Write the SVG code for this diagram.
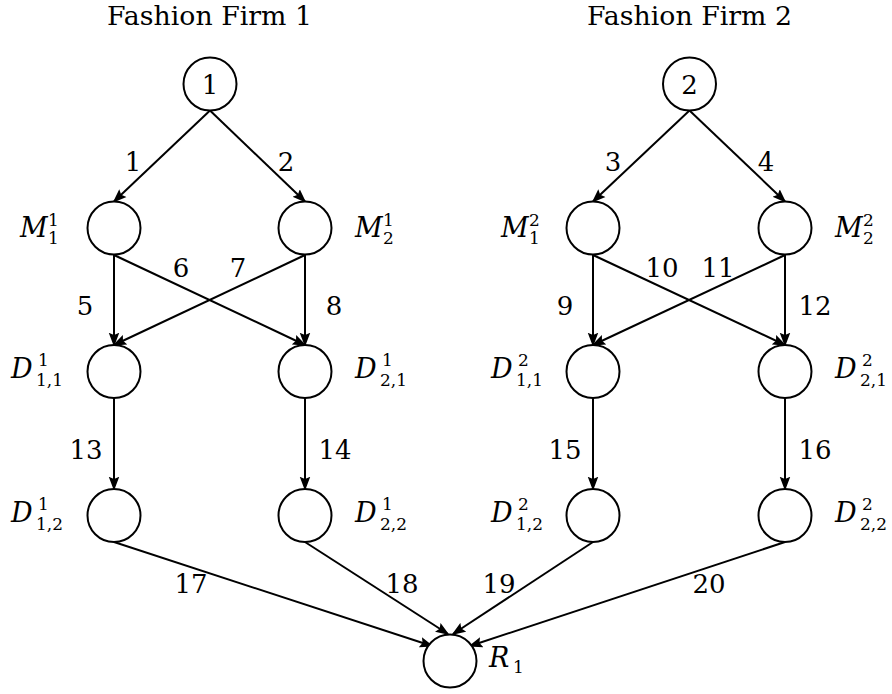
<svg xmlns="http://www.w3.org/2000/svg" width="892" height="694" viewBox="0 0 892 694" font-family="DejaVu Serif, serif">
<style>
text{fill:#000;font-family:'DejaVu Serif',serif}
.t{font-size:26px;text-anchor:middle}
.n{font-size:26px;text-anchor:middle}
.v{font-size:27px;font-style:italic}
.s{font-size:17px}
circle{fill:#fff;stroke:#000;stroke-width:2}
.e line{stroke:#000;stroke-width:2;marker-end:url(#ah)}
</style>
<defs>
<marker id="ah" markerUnits="userSpaceOnUse" markerWidth="14" markerHeight="12" viewBox="0 0 12 10" refX="10.5" refY="5" orient="auto">
<path d="M0,0.5 L12,5 L0,9.5 L2,5 z" fill="#000"/>
</marker>
</defs>
<text class="t" x="209.5" y="25" textLength="205" lengthAdjust="spacingAndGlyphs">Fashion Firm 1</text>
<text class="t" x="689.5" y="25" textLength="205" lengthAdjust="spacingAndGlyphs">Fashion Firm 2</text>
<g id="connectors" class="e">
<line x1="210" y1="110.5" x2="114" y2="201.5"/>
<line x1="210" y1="110.5" x2="305" y2="201.5"/>
<line x1="689.5" y1="110.5" x2="593" y2="201.5"/>
<line x1="689.5" y1="110.5" x2="785" y2="201.5"/>
<line x1="114" y1="255" x2="114" y2="345"/>
<line x1="114" y1="255" x2="305" y2="345"/>
<line x1="305" y1="255" x2="114" y2="345"/>
<line x1="305" y1="255" x2="305" y2="345"/>
<line x1="593" y1="255" x2="593" y2="345"/>
<line x1="593" y1="255" x2="785" y2="345"/>
<line x1="785" y1="255" x2="593" y2="345"/>
<line x1="785" y1="255" x2="785" y2="345"/>
<line x1="114" y1="398" x2="114" y2="489"/>
<line x1="305" y1="398" x2="305" y2="489"/>
<line x1="593" y1="398" x2="593" y2="489"/>
<line x1="785" y1="398" x2="785" y2="489"/>
<line x1="114" y1="542" x2="432" y2="646"/>
<line x1="305" y1="542" x2="448" y2="634"/>
<line x1="593" y1="542" x2="453" y2="634"/>
<line x1="785" y1="542" x2="470" y2="646"/>
</g>
<g id="edge-labels">
<text class="n" x="133" y="171">1</text>
<text class="n" x="286" y="171">2</text>
<text class="n" x="613" y="171">3</text>
<text class="n" x="766" y="171">4</text>
<text class="n" x="85" y="315">5</text>
<text class="n" x="181" y="277">6</text>
<text class="n" x="238" y="277">7</text>
<text class="n" x="334" y="315">8</text>
<text class="n" x="565" y="315">9</text>
<text class="n" x="662" y="277">10</text>
<text class="n" x="718" y="277">11</text>
<text class="n" x="815" y="315">12</text>
<text class="n" x="86" y="459">13</text>
<text class="n" x="335" y="459">14</text>
<text class="n" x="565" y="459">15</text>
<text class="n" x="815" y="459">16</text>
<text class="n" x="191" y="593">17</text>
<text class="n" x="402" y="593">18</text>
<text class="n" x="499" y="593">19</text>
<text class="n" x="709" y="593">20</text>
</g>
<g id="n1"><circle cx="210" cy="84" r="26.5"/><text class="n" x="210" y="94">1</text></g>
<g id="n2"><circle cx="689.5" cy="84" r="26.5"/><text class="n" x="689.5" y="94">2</text></g>
<g id="M11"><circle cx="114" cy="228" r="26.5"/><text class="v" x="20" y="237">M</text><text class="s" x="48" y="226">1</text><text class="s" x="48" y="244">1</text></g>
<g id="M21"><circle cx="305" cy="228" r="26.5"/><text class="v" x="355" y="237">M</text><text class="s" x="383" y="226">1</text><text class="s" x="383" y="244">2</text></g>
<g id="M12"><circle cx="593" cy="228" r="26.5"/><text class="v" x="501" y="237">M</text><text class="s" x="529" y="226">2</text><text class="s" x="529" y="244">1</text></g>
<g id="M22"><circle cx="785" cy="228" r="26.5"/><text class="v" x="835" y="237">M</text><text class="s" x="863" y="226">2</text><text class="s" x="863" y="244">2</text></g>
<g id="D111"><circle cx="114" cy="371.5" r="26.5"/><text class="v" x="11" y="378">D</text><text class="s" x="38" y="366">1</text><text class="s" x="36" y="386">1,1</text></g>
<g id="D211"><circle cx="305" cy="371.5" r="26.5"/><text class="v" x="355" y="378">D</text><text class="s" x="382" y="366">1</text><text class="s" x="380" y="386">2,1</text></g>
<g id="D112"><circle cx="593" cy="371.5" r="26.5"/><text class="v" x="491" y="378">D</text><text class="s" x="518" y="366">2</text><text class="s" x="516" y="386">1,1</text></g>
<g id="D212"><circle cx="785" cy="371.5" r="26.5"/><text class="v" x="835" y="378">D</text><text class="s" x="862" y="366">2</text><text class="s" x="860" y="386">2,1</text></g>
<g id="D121"><circle cx="114" cy="515.5" r="26.5"/><text class="v" x="11" y="522">D</text><text class="s" x="38" y="510">1</text><text class="s" x="36" y="530">1,2</text></g>
<g id="D221"><circle cx="305" cy="515.5" r="26.5"/><text class="v" x="355" y="522">D</text><text class="s" x="382" y="510">1</text><text class="s" x="380" y="530">2,2</text></g>
<g id="D122"><circle cx="593" cy="515.5" r="26.5"/><text class="v" x="491" y="522">D</text><text class="s" x="518" y="510">2</text><text class="s" x="516" y="530">1,2</text></g>
<g id="D222"><circle cx="785" cy="515.5" r="26.5"/><text class="v" x="835" y="522">D</text><text class="s" x="862" y="510">2</text><text class="s" x="860" y="530">2,2</text></g>
<g id="R1"><circle cx="450" cy="661" r="26.5"/><text class="v" x="489" y="667">R</text><text class="s" x="513" y="673">1</text></g>
</svg>
